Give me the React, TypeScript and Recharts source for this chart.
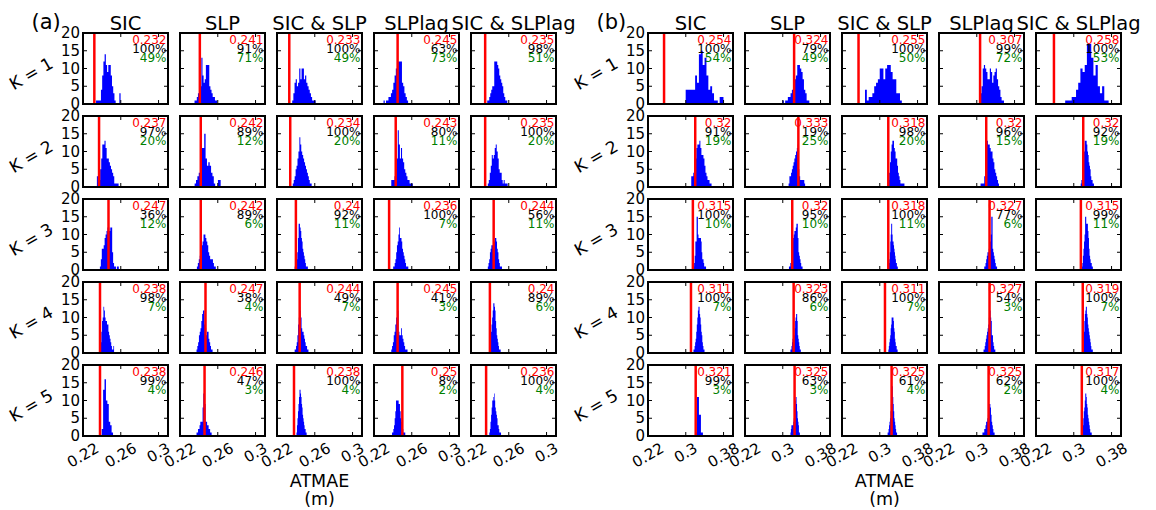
import React from 'react';
import { ComposedChart, Area, XAxis, YAxis, ReferenceLine } from 'recharts';

const columnTitles = ['SIC', 'SLP', 'SIC & SLP', 'SLPlag', 'SIC & SLPlag'];
const rowK = [1, 2, 3, 4, 5];
const yTicks = [0, 5, 10, 15, 20];
const xTicksA = [0.22, 0.26, 0.3];
const xTicksB = [0.22, 0.3, 0.38];
const domainA: [number, number] = [0.22, 0.31];
const domainB: [number, number] = [0.22, 0.4];

// panel (a) annotations
const redA = [
  [0.232, 0.241, 0.233, 0.245, 0.235],
  [0.237, 0.242, 0.234, 0.243, 0.235],
  [0.247, 0.242, 0.24, 0.236, 0.244],
  [0.238, 0.247, 0.244, 0.245, 0.24],
  [0.238, 0.246, 0.238, 0.25, 0.236],
];
const blackA = [
  [100, 91, 100, 63, 98],
  [97, 89, 100, 80, 100],
  [36, 89, 92, 100, 56],
  [98, 38, 49, 41, 89],
  [99, 47, 100, 8, 100],
];
const greenA = [
  [49, 71, 49, 73, 51],
  [20, 12, 20, 11, 20],
  [12, 6, 11, 7, 11],
  [7, 4, 7, 3, 6],
  [4, 3, 4, 2, 4],
];
// panel (b) annotations
const redB = [
  [0.254, 0.324, 0.255, 0.307, 0.258],
  [0.32, 0.333, 0.318, 0.32, 0.32],
  [0.315, 0.32, 0.318, 0.327, 0.315],
  [0.311, 0.323, 0.311, 0.327, 0.319],
  [0.321, 0.325, 0.325, 0.325, 0.317],
];
const blackB = [
  [100, 79, 100, 99, 100],
  [91, 19, 98, 96, 92],
  [100, 95, 100, 77, 99],
  [100, 86, 100, 54, 100],
  [99, 63, 61, 62, 100],
];
const greenB = [
  [54, 49, 50, 72, 53],
  [19, 25, 20, 15, 19],
  [10, 10, 11, 6, 11],
  [7, 6, 7, 3, 7],
  [3, 3, 4, 2, 4],
];

// histogram bin starts and widths
const startA = [
  [0.2338, 0.2354, 0.2361, 0.2301, 0.2372],
  [0.2347, 0.2355, 0.2367, 0.2383, 0.2378],
  [0.2379, 0.2379, 0.2387, 0.2403, 0.2378],
  [0.2379, 0.2375, 0.2387, 0.2383, 0.2394],
  [0.2398, 0.2375, 0.2406, 0.2391, 0.2394],
];
const binA = [
  [0.0013, 0.0012, 0.00124, 0.0013, 0.00106],
  [0.00115, 0.00145, 0.001, 0.00114, 0.00105],
  [0.001, 0.001, 0.0007, 0.0008, 0.00075],
  [0.00075, 0.00085, 0.00073, 0.00086, 0.0006],
  [0.0015, 0.0008, 0.00054, 0.0007, 0.00062],
];
const startB = [
  [0.2998, 0.2994, 0.2687, 0.3076, 0.2818],
  [0.3116, 0.3123, 0.3182, 0.308, 0.3147],
  [0.3163, 0.3131, 0.3182, 0.3158, 0.317],
  [0.3163, 0.3162, 0.3182, 0.3143, 0.3193],
  [0.3195, 0.3162, 0.3166, 0.312, 0.317],
];
const binB = [
  [0.004, 0.00284, 0.0039, 0.0025, 0.0046],
  [0.00215, 0.00175, 0.0017, 0.00195, 0.0014],
  [0.00133, 0.00144, 0.001, 0.00136, 0.00117],
  [0.00117, 0.0011, 0.00098, 0.00125, 0.00105],
  [0.0042, 0.001, 0.001, 0.00129, 0.00105],
];

// histogram counts, panel (a)
const countsAK1 = [
  [1, 1, 1, 1, 4, 8, 12, 14, 11, 9, 11, 11, 8, 5, 3, 1, 0, 0, 0, 3],
  [1, 1, 2, 3, 5, 5, 13, 8, 6, 7, 11, 11, 11, 5, 4, 3, 2, 2, 1, 1],
  [1, 3, 6, 7, 5, 6, 10, 7, 10, 10, 7, 8, 6, 5, 4, 3, 2, 1, 1, 1],
  [1, 0, 1, 1, 2, 2, 3, 4, 6, 8, 10, 12, 12, 12, 12, 6, 5, 3, 2, 1],
  [1, 1, 2, 3, 4, 5, 5, 12, 12, 12, 11, 10, 8, 7, 6, 5, 3, 2, 1, 1],
];
const countsAK2 = [
  [3, 1, 2, 5, 8, 12, 12, 13, 11, 8, 8, 7, 6, 5, 4, 3, 1, 1, 1, 1],
  [1, 2, 3, 4, 5, 11, 11, 15, 8, 6, 7, 6, 4, 3, 1, 0, 0, 2, 2, 0],
  [1, 2, 3, 5, 6, 8, 10, 14, 12, 10, 9, 8, 7, 6, 5, 4, 3, 2, 1, 1],
  [2, 2, 2, 3, 5, 8, 16, 12, 8, 11, 8, 7, 5, 4, 3, 2, 2, 1, 1, 1],
  [1, 2, 4, 6, 9, 8, 9, 11, 12, 10, 8, 5, 4, 4, 2, 1, 2, 1, 1, 1],
];
const countsAK3 = [
  [1, 3, 6, 6, 7, 9, 10, 11, 12, 12, 11, 12, 12, 5, 2, 1, 1, 0, 1, 1],
  [1, 2, 3, 4, 5, 7, 8, 10, 10, 9, 8, 7, 5, 4, 3, 3, 3, 2, 1, 1],
  [1, 1, 2, 3, 5, 9, 13, 13, 12, 11, 9, 8, 6, 5, 4, 3, 2, 1, 1, 1],
  [1, 1, 2, 3, 5, 7, 8, 10, 12, 9, 9, 8, 6, 5, 4, 3, 2, 1, 1, 1],
  [1, 2, 3, 5, 6, 7, 7, 7, 8, 8, 9, 9, 8, 6, 5, 3, 2, 1, 1, 1],
];
const countsAK4 = [
  [1, 3, 6, 9, 10, 13, 12, 10, 9, 9, 8, 8, 6, 5, 4, 3, 2, 1, 1, 2],
  [1, 2, 3, 5, 6, 7, 9, 11, 12, 12, 8, 7, 5, 6, 6, 4, 3, 2, 1, 1],
  [1, 1, 2, 3, 5, 8, 10, 13, 12, 10, 7, 6, 6, 5, 4, 3, 2, 2, 1, 1],
  [1, 2, 3, 5, 6, 8, 10, 12, 12, 6, 5, 5, 7, 5, 4, 3, 2, 1, 1, 1],
  [1, 2, 4, 6, 8, 10, 12, 14, 14, 13, 12, 9, 7, 5, 4, 3, 2, 1, 1, 1],
];
const countsAK5 = [
  [2, 13, 16, 10, 9, 4, 3, 1],
  [1, 1, 2, 2, 3, 4, 4, 4, 8, 12, 12, 9, 4, 4, 3, 3, 2, 2, 1, 1],
  [1, 3, 5, 7, 9, 11, 13, 13, 12, 11, 9, 8, 6, 5, 4, 3, 2, 2, 1, 1],
  [1, 1, 2, 3, 5, 7, 10, 10, 10, 10, 9, 9, 7, 5, 4, 3, 2, 1, 1, 1],
  [1, 2, 4, 6, 8, 10, 10, 11, 12, 10, 8, 7, 6, 5, 3, 3, 2, 1, 1, 1],
];
// histogram counts, panel (b)
const countsBK1 = [
  [4, 4, 4, 4, 4, 8, 6, 14, 15, 11, 13, 8, 4, 5, 3, 1, 1, 0, 2, 2],
  [1, 0, 1, 1, 2, 2, 3, 4, 5, 7, 8, 11, 11, 10, 9, 7, 4, 3, 1, 1],
  [4, 1, 2, 2, 3, 5, 6, 7, 10, 10, 7, 10, 11, 11, 9, 7, 7, 3, 3, 1],
  [3, 5, 10, 11, 10, 9, 7, 7, 10, 9, 6, 8, 9, 10, 7, 5, 4, 2, 1, 1],
  [1, 1, 1, 2, 2, 4, 6, 10, 9, 11, 17, 17, 13, 8, 11, 5, 3, 5, 1, 1],
];
const countsBK2 = [
  [3, 3, 4, 4, 8, 11, 12, 12, 13, 11, 9, 9, 8, 6, 4, 3, 2, 2, 1, 1],
  [1, 3, 3, 4, 5, 6, 7, 8, 9, 10, 11, 12, 5, 3, 2, 2, 2, 2, 2, 1],
  [2, 4, 7, 10, 12, 13, 13, 11, 10, 8, 8, 6, 4, 3, 2, 1, 1, 1, 1, 1],
  [1, 1, 1, 1, 3, 5, 10, 13, 12, 12, 11, 10, 10, 8, 7, 5, 4, 3, 2, 1],
  [1, 2, 3, 5, 7, 10, 13, 13, 13, 12, 10, 9, 7, 6, 5, 3, 2, 2, 1, 1],
];
const countsBK3 = [
  [1, 2, 4, 8, 8, 15, 15, 10, 9, 9, 9, 9, 8, 5, 3, 3, 2, 1, 1, 1],
  [1, 1, 2, 3, 6, 8, 9, 10, 11, 11, 12, 13, 13, 9, 5, 4, 3, 2, 1, 1],
  [1, 2, 3, 5, 8, 10, 13, 13, 10, 8, 8, 7, 6, 5, 4, 3, 2, 2, 1, 1],
  [1, 1, 2, 3, 4, 5, 5, 6, 8, 8, 10, 15, 15, 6, 5, 4, 3, 2, 1, 1],
  [1, 2, 4, 6, 8, 10, 15, 15, 13, 13, 13, 11, 9, 6, 4, 3, 2, 2, 1, 1],
];
const countsBK4 = [
  [1, 1, 2, 3, 4, 6, 8, 10, 12, 13, 13, 11, 10, 8, 6, 5, 3, 2, 1, 1],
  [1, 1, 2, 3, 4, 4, 5, 5, 7, 9, 10, 11, 11, 9, 5, 4, 3, 2, 1, 1],
  [1, 2, 3, 4, 5, 7, 8, 10, 10, 10, 10, 9, 7, 6, 4, 3, 2, 2, 1, 1],
  [1, 1, 2, 3, 4, 5, 6, 7, 8, 10, 12, 12, 10, 9, 5, 5, 3, 2, 1, 1],
  [2, 4, 6, 9, 11, 12, 13, 13, 11, 10, 8, 7, 6, 5, 4, 3, 2, 1, 1, 1],
];
const countsBK5 = [
  [1, 11, 6, 1],
  [1, 2, 3, 3, 3, 3, 4, 5, 6, 8, 10, 11, 11, 9, 7, 5, 4, 3, 1, 1],
  [1, 1, 2, 3, 4, 5, 7, 9, 11, 14, 14, 11, 9, 7, 5, 4, 3, 2, 1, 1],
  [1, 1, 1, 2, 2, 3, 4, 4, 5, 6, 8, 9, 9, 8, 6, 4, 3, 2, 1, 1],
  [1, 2, 3, 5, 7, 8, 10, 12, 12, 11, 9, 8, 6, 5, 4, 3, 2, 1, 1, 1],
];

const countsA = [countsAK1, countsAK2, countsAK3, countsAK4, countsAK5];
const countsB = [countsBK1, countsBK2, countsBK3, countsBK4, countsBK5];

// layout
const BW = 85;
const BH = 71;
const FONT = 'DejaVu Sans, Verdana, sans-serif';
const boxLeft = (panel: number, col: number) =>
  Math.round((panel === 0 ? 83.3 : 648.3) + 96.85 * col);
const boxTop = (row: number) => Math.round(33.3 + 83 * row);

const histData = (start: number, bin: number, counts: number[]) => [
  ...counts.map((c, i) => ({ x: start + i * bin, c })),
  { x: start + counts.length * bin, c: 0 },
];

const Empty = () => <g />;

const YTick = (props: any) => (
  <text x={props.x} y={props.y} textAnchor="end" dominantBaseline="central" fontSize={15} fontFamily={FONT} fill="#000">
    {props.payload.value}
  </text>
);

const XTick = (props: any) => {
  const label = String(props.payload.value);
  const fs = 15;
  let w = 0;
  for (const ch of label) w += ch === '.' ? 0.318 : 0.636;
  w *= fs;
  const bboxH = w * 0.5 + 0.75 * fs * 0.866;
  const cx = props.x;
  const cy = props.y + bboxH / 2;
  return (
    <text x={cx} y={cy} textAnchor="middle" dominantBaseline="central" fontSize={fs} fontFamily={FONT} fill="#000"
      transform={`rotate(-30 ${cx} ${cy})`}>
      {label}
    </text>
  );
};

const AXIS = { stroke: '#000', strokeWidth: 2, strokeLinecap: 'square' as const };
const TICK = { stroke: '#000', strokeWidth: 1 };

function Subplot(p: {
  left: number; top: number; data: { x: number; c: number }[]; red: number;
  domain: [number, number]; xticks: number[]; showY: boolean; showX: boolean;
}) {
  return (
    <div style={{ position: 'absolute', left: p.left - 2, top: p.top - 2, width: BW + 4, height: BH + 4 }}>
      <ComposedChart width={BW + 4} height={BH + 4} data={p.data} margin={{ top: 1, right: 1, bottom: 1, left: 1 }}>
        <Area xAxisId="b" yAxisId="l" type="stepAfter" dataKey="c" stroke="none" fill="#0000ff" fillOpacity={1}
          isAnimationActive={false} />
        <ReferenceLine xAxisId="b" yAxisId="l" x={p.red} stroke="#ff0000" strokeWidth={2.5} />
        <XAxis xAxisId="b" dataKey="x" type="number" domain={p.domain} ticks={p.xticks} allowDataOverflow
          orientation="bottom" height={1} interval={0} tickSize={-4} tickMargin={10}
          axisLine={AXIS} tickLine={TICK} tick={p.showX ? XTick : Empty} />
        <XAxis xAxisId="t" dataKey="x" type="number" domain={p.domain} ticks={p.xticks} allowDataOverflow
          orientation="top" height={1} interval={0} tickSize={-4} axisLine={AXIS} tickLine={TICK} tick={Empty} />
        <YAxis yAxisId="l" type="number" domain={[0, 20]} ticks={yTicks} allowDataOverflow orientation="left"
          width={1} interval={0} tickSize={-4} tickMargin={7} axisLine={AXIS} tickLine={TICK}
          tick={p.showY ? YTick : Empty} />
        <YAxis yAxisId="r" type="number" domain={[0, 20]} ticks={yTicks} allowDataOverflow orientation="right"
          width={1} interval={0} tickSize={-4} axisLine={AXIS} tickLine={TICK} tick={Empty} />
      </ComposedChart>
    </div>
  );
}

export default function App() {
  const panels = [
    { counts: countsA, start: startA, bin: binA, red: redA, black: blackA, green: greenA, domain: domainA, ticks: xTicksA, label: '(a)' },
    { counts: countsB, start: startB, bin: binB, red: redB, black: blackB, green: greenB, domain: domainB, ticks: xTicksB, label: '(b)' },
  ];
  const charts: React.ReactNode[] = [];
  const texts: React.ReactNode[] = [];
  panels.forEach((P, pi) => {
    rowK.forEach((k, r) => {
      columnTitles.forEach((title, c) => {
        const left = boxLeft(pi, c);
        const top = boxTop(r);
        charts.push(
          <Subplot key={`c${pi}-${r}-${c}`} left={left} top={top}
            data={histData(P.start[r][c], P.bin[r][c], P.counts[r][c])} red={P.red[r][c]}
            domain={P.domain} xticks={P.ticks} showY={c === 0} showX={r === rowK.length - 1} />
        );
        const tx = left + BW - 1.5;
        texts.push(
          <g key={`t${pi}-${r}-${c}`} fontSize={12} fontFamily={FONT} textAnchor="end">
            <text x={tx} y={top + 11} fill="#ff0000">{String(P.red[r][c])}</text>
            <text x={tx} y={top + 20} fill="#000000">{`${P.black[r][c]}%`}</text>
            <text x={tx} y={top + 29} fill="#008000">{`${P.green[r][c]}%`}</text>
          </g>
        );
      });
      const cx = boxLeft(pi, 0) - 52;
      const cy = boxTop(r) + BH / 2 + 5;
      texts.push(
        <text key={`k${pi}-${r}`} x={cx} y={cy} textAnchor="middle" dominantBaseline="central" fontSize={17}
          fontFamily={FONT} fill="#000" transform={`rotate(-30 ${cx} ${cy})`}>
          {`K = ${k}`}
        </text>
      );
    });
    columnTitles.forEach((title, c) => {
      texts.push(
        <text key={`h${pi}-${c}`} x={boxLeft(pi, c) + BW / 2} y={29.5} textAnchor="middle" fontSize={19.5}
          fontFamily={FONT} fill="#000">{title}</text>
      );
    });
    const mid = (boxLeft(pi, 0) + boxLeft(pi, 4) + BW) / 2;
    texts.push(
      <text key={`xl${pi}`} x={mid} y={487} textAnchor="middle" fontSize={17.5} fontFamily={FONT} fill="#000">ATMAE</text>,
      <text key={`xu${pi}`} x={mid} y={505} textAnchor="middle" fontSize={17.5} fontFamily={FONT} fill="#000">(m)</text>,
      <text key={`pl${pi}`} x={boxLeft(pi, 0) - 51.5} y={28.5} textAnchor="start" fontSize={21} fontFamily={FONT} fill="#000">{P.label}</text>
    );
  });

  return (
    <div style={{ position: 'absolute', left: 0, top: 0, width: 1156, height: 510, background: '#fff', overflow: 'hidden' }}>
      <style>{`body{margin:0;} .recharts-surface{overflow:visible;} .recharts-wrapper{overflow:visible;}`}</style>
      {charts}
      <svg width={1156} height={510} style={{ position: 'absolute', left: 0, top: 0, pointerEvents: 'none' }}>
        {texts}
      </svg>
    </div>
  );
}
